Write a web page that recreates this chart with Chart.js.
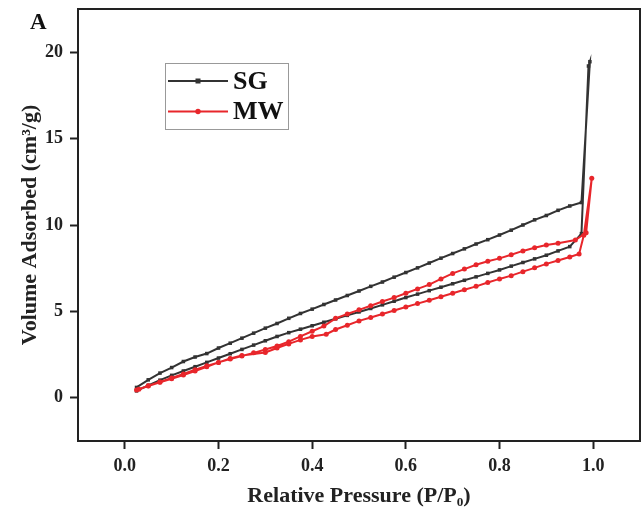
<!DOCTYPE html>
<html>
<head>
<meta charset="utf-8">
<script src="https://cdn.jsdelivr.net/npm/chart.js@4.4.1/dist/chart.umd.min.js"></script>
<style>
    html, body { margin: 0; padding: 0; background: #fff; }
</style>
</head>
<body>
<canvas id="isotherm" width="644" height="512"></canvas>
<script>
// N2 adsorption / desorption isotherms
const seriesNames = ['SG', 'MW'];

// SG - adsorption branch
const sgAdsX = [0.025, 0.05, 0.075, 0.1, 0.125, 0.15, 0.175, 0.2, 0.225, 0.25, 0.275, 0.3, 0.325, 0.35, 0.375, 0.4,
    0.425, 0.45, 0.475, 0.5, 0.525, 0.55, 0.575, 0.6, 0.625, 0.65, 0.675, 0.7, 0.725, 0.75, 0.775, 0.8,
    0.825, 0.85, 0.875, 0.9, 0.925, 0.95, 0.975, 0.99];
const sgAdsY = [0.40, 0.72, 1.02, 1.30, 1.55, 1.80, 2.05, 2.30, 2.55, 2.80, 3.05, 3.30, 3.55, 3.77, 3.97, 4.17,
    4.37, 4.57, 4.77, 4.97, 5.17, 5.38, 5.59, 5.80, 6.00, 6.20, 6.40, 6.60, 6.80, 7.00, 7.20, 7.40,
    7.62, 7.83, 8.04, 8.25, 8.50, 8.75, 9.50, 19.20];

// SG - desorption branch
const sgDesX = [0.993, 0.975, 0.95, 0.925, 0.9, 0.875, 0.85, 0.825, 0.8, 0.775, 0.75, 0.725, 0.7, 0.675, 0.65, 0.625,
    0.6, 0.575, 0.55, 0.525, 0.5, 0.475, 0.45, 0.425, 0.4, 0.375, 0.35, 0.325, 0.3, 0.275, 0.25, 0.225,
    0.2, 0.175, 0.15, 0.125, 0.1, 0.075, 0.05, 0.025];
const sgDesY = [19.45, 11.30, 11.10, 10.85, 10.55, 10.30, 10.00, 9.70, 9.42, 9.15, 8.90, 8.62, 8.35, 8.08, 7.80, 7.52,
    7.25, 6.98, 6.70, 6.45, 6.18, 5.92, 5.66, 5.40, 5.13, 4.88, 4.60, 4.30, 4.03, 3.74, 3.45, 3.16,
    2.88, 2.56, 2.36, 2.10, 1.75, 1.43, 1.04, 0.60];

// MW - adsorption branch
const mwAdsX = [0.025, 0.05, 0.075, 0.1, 0.125, 0.15, 0.175, 0.2, 0.225, 0.25, 0.3, 0.325, 0.35, 0.375, 0.4, 0.43,
    0.45, 0.475, 0.5, 0.525, 0.55, 0.575, 0.6, 0.625, 0.65, 0.675, 0.7, 0.725, 0.75, 0.775, 0.8,
    0.825, 0.85, 0.875, 0.9, 0.925, 0.95, 0.97, 0.98, 0.997];
const mwAdsY = [0.45, 0.68, 0.90, 1.10, 1.32, 1.55, 1.80, 2.05, 2.28, 2.45, 2.62, 2.88, 3.12, 3.35, 3.55, 3.68,
    3.95, 4.20, 4.45, 4.65, 4.85, 5.05, 5.25, 5.45, 5.65, 5.85, 6.05, 6.25, 6.45, 6.67, 6.88,
    7.07, 7.30, 7.52, 7.75, 7.95, 8.15, 8.32, 9.40, 12.70];

// MW - desorption branch
const mwDesX = [0.985, 0.962, 0.925, 0.9, 0.875, 0.85, 0.825, 0.8, 0.775, 0.75, 0.725, 0.7, 0.675, 0.65, 0.625, 0.6,
    0.575, 0.55, 0.525, 0.5, 0.475, 0.45, 0.425, 0.4, 0.375, 0.35, 0.325, 0.3, 0.275, 0.25, 0.225, 0.2,
    0.175, 0.15, 0.125, 0.1, 0.075, 0.05, 0.03];
const mwDesY = [9.55, 9.13, 8.95, 8.84, 8.68, 8.50, 8.28, 8.07, 7.90, 7.70, 7.45, 7.20, 6.88, 6.55, 6.30, 6.05,
    5.80, 5.57, 5.33, 5.09, 4.85, 4.60, 4.15, 3.85, 3.55, 3.25, 3.00, 2.80, 2.60, 2.42, 2.25, 2.05,
    1.85, 1.62, 1.38, 1.15, 0.92, 0.70, 0.50];

const xTickValues = [0.0, 0.2, 0.4, 0.6, 0.8, 1.0];
const yTickValues = [0, 5, 10, 15, 20];

const SERIF = '"Liberation Serif", "Times New Roman", serif';
const SG_COLOR = '#333333';
const MW_COLOR = '#e8262b';

// join adsorption + desorption into one closed loop per sample
function toPoints(xs, ys) {
    return xs.map((x, i) => ({ x: x, y: ys[i] }));
}

// plot frame, panel letter and the boxed legend
const decorations = {
    id: 'decorations',
    afterDraw(chart) {
        const { ctx, chartArea } = chart;
        ctx.save();

        ctx.strokeStyle = '#222';
        ctx.lineWidth = 2;
        ctx.strokeRect(chartArea.left, chartArea.top,
            chartArea.right - chartArea.left, chartArea.bottom - chartArea.top);

        ctx.fillStyle = '#111';
        ctx.font = 'bold 23px ' + SERIF;
        ctx.textAlign = 'left';
        ctx.textBaseline = 'middle';
        ctx.fillText('A', 30, 23);

        // legend box
        ctx.fillStyle = '#fff';
        ctx.fillRect(165, 63, 123, 66);
        ctx.strokeStyle = '#999';
        ctx.lineWidth = 1;
        ctx.strokeRect(165.5, 63.5, 123, 66);

        const rows = [81, 111.5];
        chart.data.datasets.forEach((ds, i) => {
            const y = rows[i];
            ctx.strokeStyle = ds.borderColor;
            ctx.lineWidth = 2;
            ctx.beginPath();
            ctx.moveTo(168, y);
            ctx.lineTo(228, y);
            ctx.stroke();
            ctx.fillStyle = ds.borderColor;
            if (ds.pointStyle === 'rect') {
                ctx.fillRect(195.5, y - 2.5, 5, 5);
            } else {
                ctx.beginPath();
                ctx.arc(198, y, 2.7, 0, Math.PI * 2);
                ctx.fill();
            }
            ctx.fillStyle = '#111';
            ctx.font = 'bold 26px ' + SERIF;
            ctx.textBaseline = 'middle';
            ctx.fillText(ds.label, 233, y + 1);
        });

        ctx.restore();
    }
};

const axisTickStyle = {
    display: true,
    drawOnChartArea: false,
    drawTicks: true,
    tickLength: 8,
    tickWidth: 2,
    tickColor: '#222'
};

new Chart(document.getElementById('isotherm'), {
    type: 'line',
    data: {
        datasets: [
            {
                label: seriesNames[0],
                data: toPoints(sgAdsX.concat(sgDesX), sgAdsY.concat(sgDesY)),
                borderColor: SG_COLOR,
                backgroundColor: SG_COLOR,
                borderWidth: 2,
                pointStyle: 'rect',
                pointRadius: 2.5,
                pointBorderWidth: 0,
                tension: 0,
                order: 1
            },
            {
                label: seriesNames[1],
                data: toPoints(mwAdsX.concat(mwDesX), mwAdsY.concat(mwDesY)),
                borderColor: MW_COLOR,
                backgroundColor: MW_COLOR,
                borderWidth: 2,
                pointStyle: 'circle',
                pointRadius: 2.5,
                pointBorderWidth: 0,
                tension: 0,
                order: 0
            }
        ]
    },
    options: {
        responsive: false,
        animation: false,
        layout: { padding: { top: 9, right: 1, left: 0, bottom: 0 } },
        plugins: {
            legend: { display: false },
            tooltip: { enabled: false }
        },
        scales: {
            x: {
                type: 'linear',
                min: -0.1,
                max: 1.1,
                afterBuildTicks: scale => { scale.ticks = xTickValues.map(v => ({ value: v })); },
                afterFit: scale => {
                    scale.height = 71;
                    scale.paddingLeft = 0;
                    scale.paddingRight = 0;
                },
                grid: axisTickStyle,
                border: { display: true, color: '#222', width: 2 },
                ticks: {
                    padding: 7,
                    color: '#222',
                    font: { family: SERIF, size: 18, weight: 'bold' },
                    callback: v => v.toFixed(1)
                },
                title: {
                    display: true,
                    text: 'Relative Pressure (P/P\u2080)',
                    color: '#222',
                    font: { family: SERIF, size: 22, weight: 'bold' },
                    padding: { top: 0, bottom: 2 }
                }
            },
            y: {
                type: 'linear',
                min: -2.5,
                max: 22.5,
                afterBuildTicks: scale => { scale.ticks = yTickValues.map(v => ({ value: v })); },
                afterFit: scale => {
                    scale.width = 78;
                    scale.paddingTop = 0;
                    scale.paddingBottom = 0;
                },
                grid: axisTickStyle,
                border: { display: true, color: '#222', width: 2 },
                ticks: {
                    padding: 7,
                    color: '#222',
                    font: { family: SERIF, size: 18, weight: 'bold' },
                    callback: v => String(v)
                },
                title: {
                    display: true,
                    text: 'Volume Adsorbed (cm\u00b3/g)',
                    color: '#222',
                    font: { family: SERIF, size: 22, weight: 'bold' },
                    padding: { top: 17, bottom: 0 }
                }
            }
        }
    },
    plugins: [decorations]
});
</script>
</body>
</html>
